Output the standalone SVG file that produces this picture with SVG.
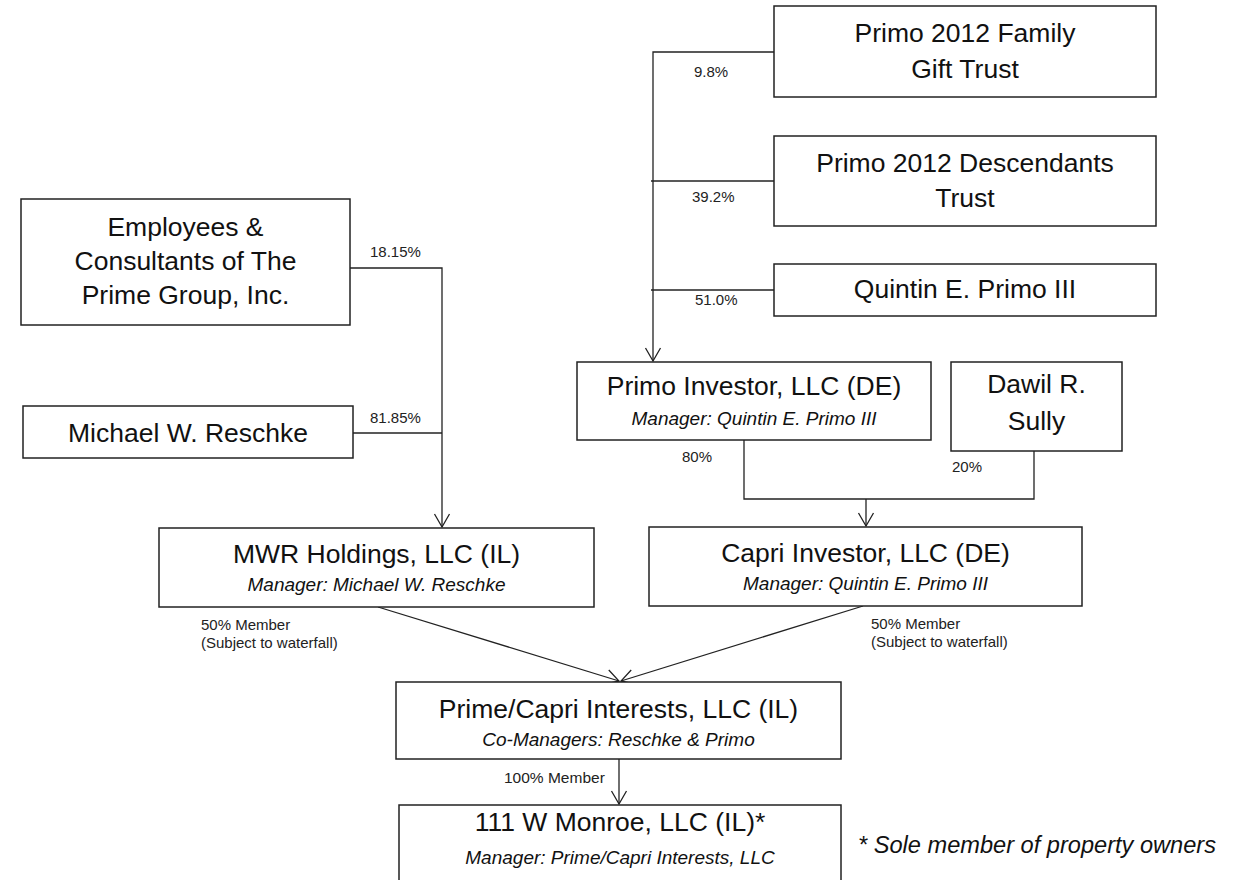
<svg xmlns="http://www.w3.org/2000/svg" width="1246" height="880" viewBox="0 0 1246 880">
<style>
.box{fill:#fff;stroke:#222;stroke-width:1.5}
.t{font-family:"Liberation Sans",Arial,sans-serif;font-size:26.5px;fill:#111;text-anchor:middle}
.s{font-family:"Liberation Sans",Arial,sans-serif;font-size:19px;font-style:italic;fill:#111;text-anchor:middle}
.l{font-family:"Liberation Sans",Arial,sans-serif;font-size:15px;fill:#222}
.c{fill:none;stroke:#222;stroke-width:1.3}
</style>
<defs>
<marker id="arr" markerUnits="userSpaceOnUse" markerWidth="20" markerHeight="20" viewBox="-16 -10 20 20" refX="0" refY="0" orient="auto" overflow="visible">
<path d="M-13,-7.5 L0,0 L-13,7.5" fill="none" stroke="#222" stroke-width="1.3"/>
</marker>
</defs>
<rect width="1246" height="880" fill="#fff"/>

<g id="connectors">
<polyline class="c" points="774,52 653,52 653,361" marker-end="url(#arr)"/>
<line class="c" x1="651" y1="181" x2="774" y2="181"/>
<line class="c" x1="651" y1="290" x2="774" y2="290"/>
<polyline class="c" points="350,268 442,268 442,527" marker-end="url(#arr)"/>
<line class="c" x1="353" y1="433" x2="442" y2="433"/>
<polyline class="c" points="744,440 744,499 1034,499 1034,451"/>
<line class="c" x1="866" y1="499" x2="866" y2="526" marker-end="url(#arr)"/>
<line class="c" x1="378" y1="607" x2="619" y2="681" marker-end="url(#arr)"/>
<line class="c" x1="863" y1="606" x2="621" y2="681" marker-end="url(#arr)"/>
<line class="c" x1="619" y1="759" x2="619" y2="804" marker-end="url(#arr)"/>
<text class="l" x="694" y="77">9.8%</text>
<text class="l" x="692" y="202">39.2%</text>
<text class="l" x="695" y="305">51.0%</text>
<text class="l" x="370" y="257">18.15%</text>
<text class="l" x="370" y="423">81.85%</text>
<text class="l" x="682" y="462">80%</text>
<text class="l" x="952" y="472">20%</text>
<text class="l" x="201" y="630">50% Member</text>
<text class="l" x="201" y="648">(Subject to waterfall)</text>
<text class="l" x="871" y="629">50% Member</text>
<text class="l" x="871" y="647">(Subject to waterfall)</text>
<text class="l" x="504" y="783" style="font-size:15.5px">100% Member</text>
</g>

<g id="gift-trust">
<rect class="box" x="774" y="6" width="382" height="91"/>
<text class="t" x="965" y="42">Primo 2012 Family</text>
<text class="t" x="965" y="78">Gift Trust</text>
</g>
<g id="descendants-trust">
<rect class="box" x="774" y="136" width="382" height="90"/>
<text class="t" x="965" y="172">Primo 2012 Descendants</text>
<text class="t" x="965" y="207">Trust</text>
</g>
<g id="quintin">
<rect class="box" x="774" y="264" width="382" height="52"/>
<text class="t" x="965" y="298">Quintin E. Primo III</text>
</g>
<g id="employees">
<rect class="box" x="21" y="199" width="329" height="126"/>
<text class="t" x="185.5" y="236">Employees &amp;</text>
<text class="t" x="185.5" y="270">Consultants of The</text>
<text class="t" x="185.5" y="304">Prime Group, Inc.</text>
</g>
<g id="reschke">
<rect class="box" x="23" y="406" width="330" height="52"/>
<text class="t" x="188" y="442">Michael W. Reschke</text>
</g>
<g id="primo-investor">
<rect class="box" x="577" y="362" width="354" height="78"/>
<text class="t" x="754" y="395">Primo Investor, LLC (DE)</text>
<text class="s" x="754" y="425">Manager: Quintin E. Primo III</text>
</g>
<g id="sully">
<rect class="box" x="951" y="362" width="171" height="89"/>
<text class="t" x="1036.5" y="393">Dawil R.</text>
<text class="t" x="1036.5" y="430">Sully</text>
</g>
<g id="mwr">
<rect class="box" x="159" y="528" width="435" height="79"/>
<text class="t" x="376.5" y="563">MWR Holdings, LLC (IL)</text>
<text class="s" x="376.5" y="591">Manager: Michael W. Reschke</text>
</g>
<g id="capri">
<rect class="box" x="649" y="527" width="433" height="79"/>
<text class="t" x="865.5" y="562">Capri Investor, LLC (DE)</text>
<text class="s" x="865.5" y="590">Manager: Quintin E. Primo III</text>
</g>
<g id="prime-capri">
<rect class="box" x="396" y="682" width="445" height="77"/>
<text class="t" x="618.5" y="718">Prime/Capri Interests, LLC (IL)</text>
<text class="s" x="618.5" y="746">Co-Managers: Reschke &amp; Primo</text>
</g>
<g id="monroe">
<rect class="box" x="399" y="805" width="442" height="90"/>
<text class="t" x="620" y="831">111 W Monroe, LLC (IL)*</text>
<text class="s" x="620" y="864">Manager: Prime/Capri Interests, LLC</text>
</g>
<g id="footnote">
<text class="s" x="858" y="853" style="text-anchor:start;font-size:23.6px">* Sole member of property owners</text>
</g>
</svg>
